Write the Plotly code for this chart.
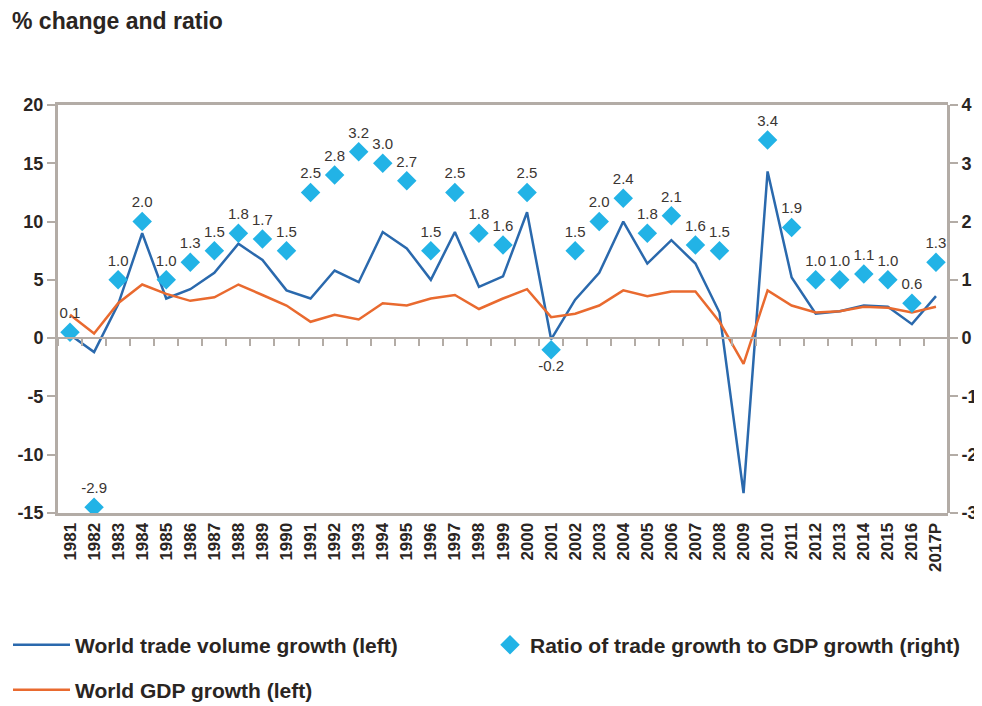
import plotly.graph_objects as go

years = ['1981', '1982', '1983', '1984', '1985', '1986', '1987', '1988', '1989', '1990',
         '1991', '1992', '1993', '1994', '1995', '1996', '1997', '1998', '1999', '2000',
         '2001', '2002', '2003', '2004', '2005', '2006', '2007', '2008', '2009', '2010',
         '2011', '2012', '2013', '2014', '2015', '2016', '2017P']

trade_growth = [0.3, -1.2, 2.9, 9.0, 3.4, 4.2, 5.6, 8.1, 6.7, 4.1,
                3.4, 5.8, 4.8, 9.1, 7.7, 5.0, 9.1, 4.4, 5.3, 10.8,
                -0.1, 3.3, 5.6, 10.0, 6.4, 8.4, 6.4, 2.2, -13.3, 14.3,
                5.2, 2.1, 2.3, 2.8, 2.7, 1.2, 3.6]

gdp_growth = [2.0, 0.4, 3.0, 4.6, 3.8, 3.2, 3.5, 4.6, 3.7, 2.8,
              1.4, 2.0, 1.6, 3.0, 2.8, 3.4, 3.7, 2.5, 3.4, 4.2,
              1.8, 2.1, 2.8, 4.1, 3.6, 4.0, 4.0, 1.4, -2.2, 4.1,
              2.8, 2.2, 2.3, 2.7, 2.6, 2.2, 2.7]

ratio = [0.1, -2.9, 1.0, 2.0, 1.0, 1.3, 1.5, 1.8, 1.7, 1.5,
         2.5, 2.8, 3.2, 3.0, 2.7, 1.5, 2.5, 1.8, 1.6, 2.5,
         -0.2, 1.5, 2.0, 2.4, 1.8, 2.1, 1.6, 1.5, None, 3.4,
         1.9, 1.0, 1.0, 1.1, 1.0, 0.6, 1.3]

left_ticks = [-15, -10, -5, 0, 5, 10, 15, 20]
right_ticks = [-3, -2, -1, 0, 1, 2, 3, 4]

AXIS_GREY = '#b3aca6'
TEXT_DARK = '#2a2522'
FONT = 'Arial, Liberation Sans, sans-serif'

# the page body keeps its default 8px margin, so the figure is 8px smaller
PAGE_PAD = 8
W, H = 982 - PAGE_PAD, 706 - PAGE_PAD

ratio_text = ['' if v is None else f'{v:.1f}' for v in ratio]
ratio_pos = ['bottom center' if (v is not None and -1 < v < 0) else 'top center' for v in ratio]

fig = go.Figure()

fig.add_trace(go.Scatter(
    x=years, y=trade_growth, mode='lines',
    name='World trade volume growth (left)',
    line=dict(color='#2a69ad', width=2.5),
    legend='legend',
))
fig.add_trace(go.Scatter(
    x=years, y=gdp_growth, mode='lines',
    name='World GDP growth (left)',
    line=dict(color='#e96a2f', width=2.5),
    legend='legend2',
))
fig.add_trace(go.Scatter(
    x=years, y=ratio, mode='markers+text',
    name='Ratio of trade growth to GDP growth (right)',
    marker=dict(symbol='diamond', size=15, color='#22b3e6'),
    text=ratio_text, textposition=ratio_pos,
    textfont=dict(family=FONT, size=15, color='#3a3532'),
    xaxis='x2', yaxis='y2',
    legend='legend3',
))

legend_font = dict(size=21, color=TEXT_DARK, family=FONT, weight='bold')


def legend_box(px, py, itemwidth=30):
    # px, py: screen position of the legend's left edge / middle
    return dict(
        xref='container', yref='container',
        x=(px - PAGE_PAD) / W, xanchor='left',
        y=1 - (py - PAGE_PAD) / H, yanchor='middle',
        orientation='h', itemwidth=itemwidth,
        font=legend_font, bgcolor='rgba(0,0,0,0)',
    )


fig.update_layout(
    width=W, height=H,
    margin=dict(l=58 - PAGE_PAD, r=34, t=105 - PAGE_PAD, b=193),
    plot_bgcolor='white', paper_bgcolor='white',
    font=dict(family=FONT, color=TEXT_DARK),
    title=dict(text='<b>% change and ratio</b>', x=4 / W, xanchor='left',
               y=1 - 13 / H, yanchor='middle', font=dict(size=23, color=TEXT_DARK)),
    showlegend=True,
    xaxis=dict(
        type='category', categoryorder='array', categoryarray=years,
        range=[-0.5, 36.5], showgrid=False, zeroline=False, automargin=False,
        showline=True, linecolor=AXIS_GREY, linewidth=3, mirror=True,
        ticks='', tickangle=-90,
        tickfont=dict(size=17, color=TEXT_DARK, family=FONT, weight='bold'),
    ),
    xaxis2=dict(
        type='category', categoryorder='array', categoryarray=years,
        range=[-0.5, 36.5], overlaying='x', anchor='free', position=15 / 35,
        showgrid=False, zeroline=False, automargin=False,
        showline=True, linecolor=AXIS_GREY, linewidth=2,
        ticks='outside', tickson='boundaries', ticklen=7, tickwidth=1.5,
        tickcolor=AXIS_GREY, showticklabels=False,
    ),
    yaxis=dict(
        range=[-15, 20], tickmode='array', tickvals=left_ticks,
        ticktext=[str(v) for v in left_ticks],
        showgrid=False, zeroline=False, automargin=False,
        showline=True, linecolor=AXIS_GREY, linewidth=3,
        ticks='outside', ticklen=8, tickwidth=2, tickcolor=AXIS_GREY,
        tickfont=dict(size=18, color=TEXT_DARK, family=FONT, weight='bold'),
    ),
    yaxis2=dict(
        range=[-3, 4], tickmode='array', tickvals=right_ticks,
        ticktext=[str(v) for v in right_ticks],
        overlaying='y', side='right', anchor='free', position=1.0,
        showgrid=False, zeroline=False, automargin=False,
        showline=True, linecolor=AXIS_GREY, linewidth=3,
        ticks='outside', ticklen=8, tickwidth=2, tickcolor=AXIS_GREY,
        tickfont=dict(size=18, color=TEXT_DARK, family=FONT, weight='bold'),
    ),
    legend=legend_box(6, 645, itemwidth=57),
    legend2=legend_box(6, 690, itemwidth=57),
    legend3=legend_box(490, 645),
)

fig.write_html('out.html')
